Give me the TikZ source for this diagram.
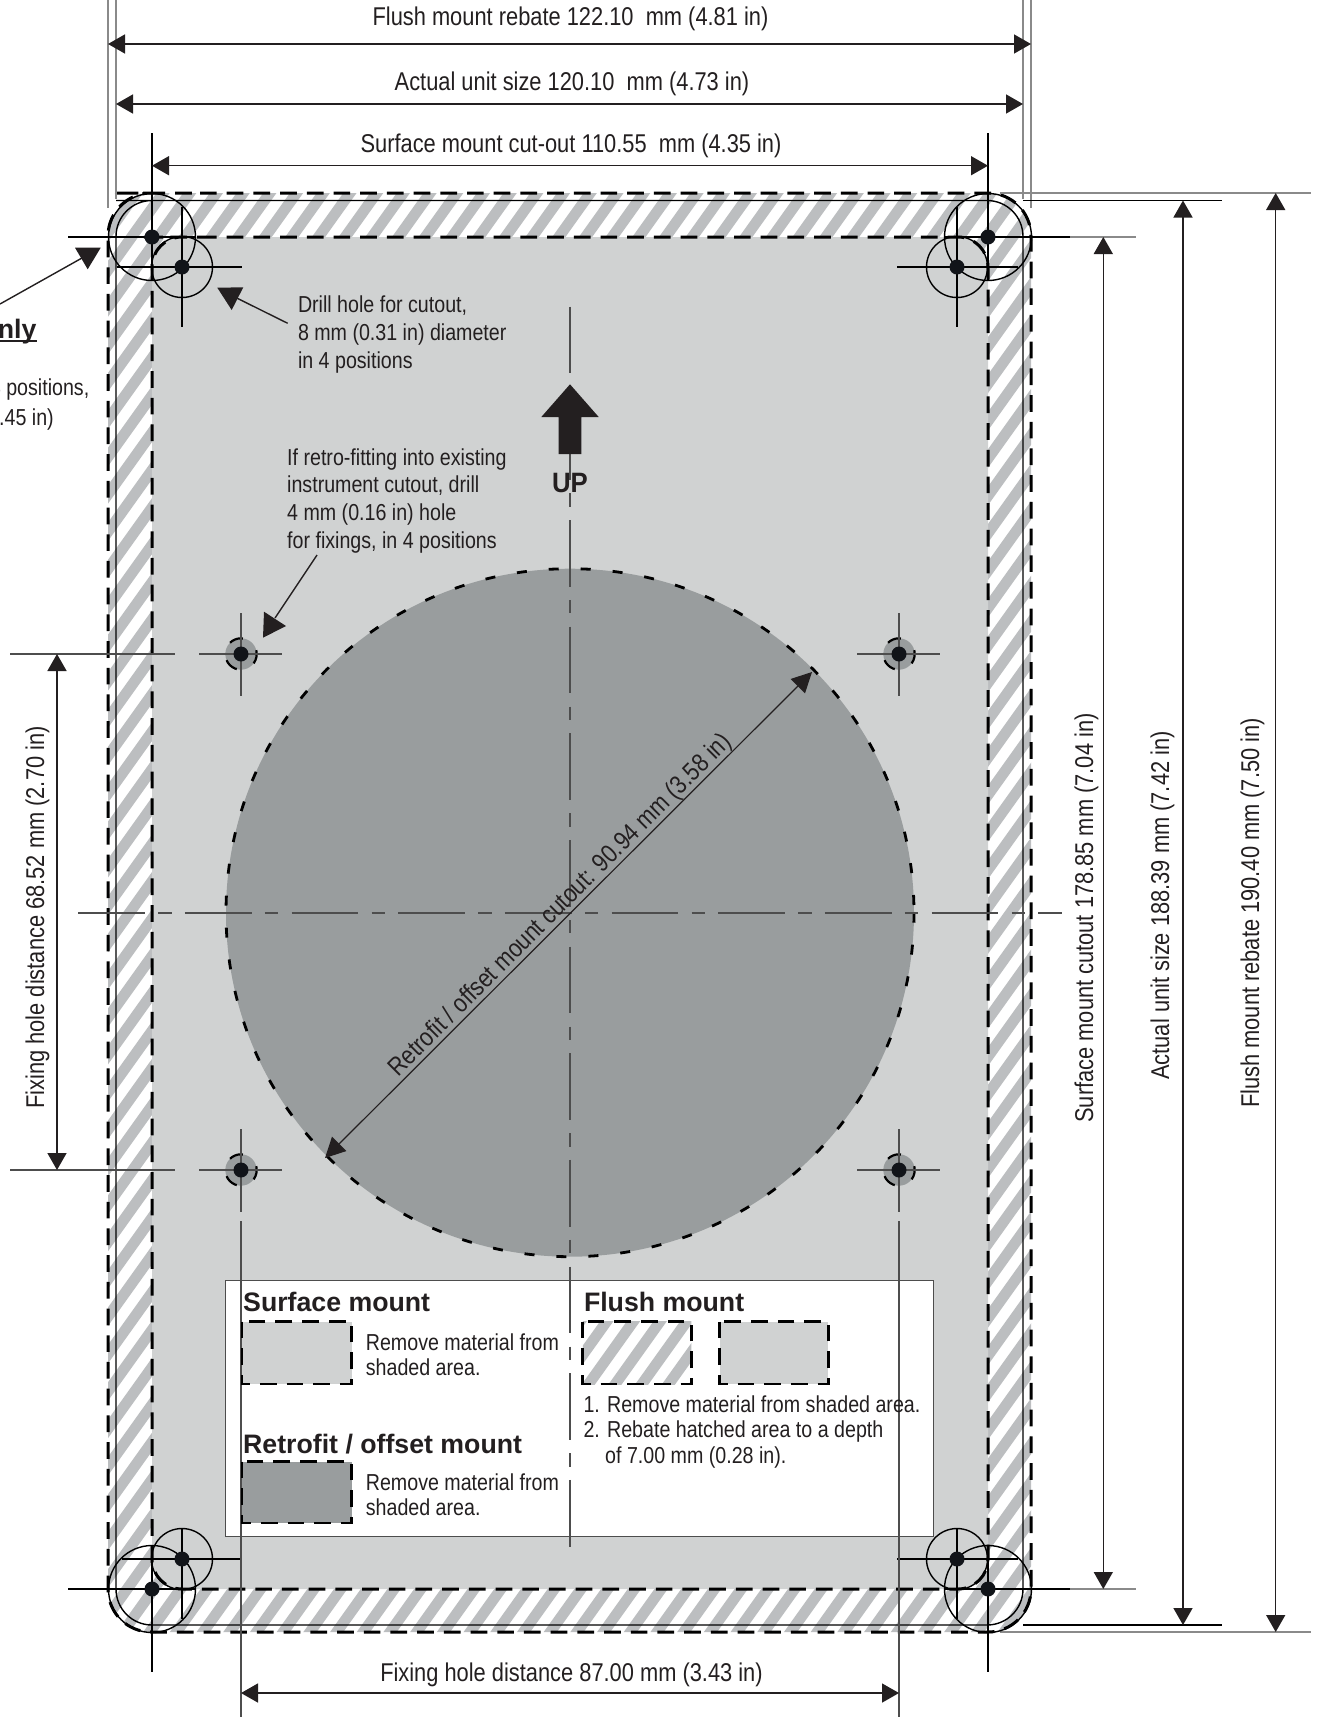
\documentclass[tikz,border=0pt]{standalone}
\usepackage{fontspec}
\setmainfont{Liberation Sans}
\newfontfamily\nar[FakeStretch=0.85]{Liberation Sans}
\newfontfamily\upf[FakeStretch=0.92]{Liberation Sans}
\usetikzlibrary{arrows.meta}
\definecolor{ink}{HTML}{231F20}
\definecolor{dot}{HTML}{111419}
\definecolor{plate}{HTML}{D0D2D2}
\definecolor{deep}{HTML}{999D9E}
\definecolor{stripe}{HTML}{BCBEC0}
\definecolor{cl}{HTML}{4D4D4D}
\definecolor{ext}{HTML}{8A8A8A}
\newcommand{\dimfont}{\nar\fontsize{25.7}{28}\selectfont}
\newcommand{\smallfont}{\nar\fontsize{23.1}{26}\selectfont}
\newcommand{\headfont}{\bfseries\fontsize{26.7}{30}\selectfont}
\newcommand{\stripes}[3]{%
  \foreach \k in {#1,...,#2}{%
    \pgfmathsetmacro{\c}{#3+26.7*\k}%
    \draw[stripe,line width=10.8pt] (\c,0) -- (\c-1285.7,1800);
  }}
\tikzset{
  dimline/.style={ink,line width=1.5pt,{Triangle[length=17pt,width=19pt]}-{Triangle[length=17pt,width=19pt]}},
  extline/.style={black,line width=1.3pt},
  greyline/.style={ext,line width=1.6pt},
  crossline/.style={cl,line width=1.6pt},
  centreline/.style={cl,line width=1.7pt,dash pattern=on 66.67pt off 13.33pt on 13.33pt off 13.33pt},
  cutdash/.style={black,line width=3pt,dash pattern=on 16.7pt off 10pt},
  thinring/.style={black,line width=1.4pt},
  holedot/.style={circle,fill=dot,inner sep=0pt,minimum size=15pt},
  txt/.style={ink,inner sep=0pt,anchor=base west,align=left},
  dimtxt/.style={ink,inner sep=0pt,anchor=base,font=\dimfont},
  smalltxt/.style={txt,font=\smallfont},
  headtxt/.style={txt,font=\headfont},
  pointer/.style={ink,line width=1.4pt},
  tip/.style={fill=ink,draw=none},
  swatch/.style={black,line width=2.7pt,dash pattern=on 16.7pt off 10pt}
}
\begin{document}
\begin{tikzpicture}[x=1pt,y=-1pt]
\useasboundingbox (0,0) rectangle (1317,1717);
\fill[white] (0,0) rectangle (1317,1717);
% hatched rebate
\begin{scope}
  \clip[rounded corners=43pt] (157,193) -- (1031,193) -- (1031,1632) -- (108,1632) -- (108,193) -- cycle;
  \stripes{9}{82}{7.2}
\end{scope}
% surface cut-out plate
\fill[plate,rounded corners=30pt] (170,237) -- (988,237) -- (988,1589) -- (152,1589) -- (152,237) -- cycle;
% retrofit circle
\coordinate (cc) at (570,912.7);
\fill[deep] (cc) circle[radius=344];
\draw[black,line width=2.8pt,dash pattern=on 10pt off 22pt] (cc) circle[radius=344];
% fixing holes
\foreach \n/\x/\y in {a/241/654,b/899/654,c/241/1170,d/899/1170}{
  \coordinate (fix\n) at (\x,\y);
  \fill[deep] (fix\n) circle[radius=15.7];
  \draw[black,line width=2.2pt,dash pattern=on 14pt off 18.9pt,dash phase=4pt] (fix\n) circle[radius=15.7];
}
% legend
\node[draw=cl,line width=1.3pt,fill=white,inner sep=0pt,minimum width=707.5pt,minimum height=256pt,anchor=north west] (legend) at (225,1280) {};
% outlines
\draw[cutdash,rounded corners=43pt] (157,193) -- (1031,193) -- (1031,1632) -- (108,1632) -- (108,193) -- cycle;
\draw[cutdash,rounded corners=30pt] (170,237) -- (988,237) -- (988,1589) -- (152,1589) -- (152,237) -- cycle;
\draw[thinring,rounded corners=36pt] (152,200.5) -- (1023,200.5) -- (1023,1625) -- (116,1625) -- (116,200.5) -- cycle;
% corner points
\coordinate (hTL) at (152,237); \coordinate (hTR) at (988,237); \coordinate (hBL) at (152,1589); \coordinate (hBR) at (988,1589);
\coordinate (iTL) at (182,267); \coordinate (iTR) at (957,267); \coordinate (iBL) at (182,1559); \coordinate (iBR) at (957,1559);
% extension lines
\draw[greyline] (108,0) -- (108,208);
\draw[greyline] (116,0) -- (116,199);
\draw[greyline] (1031,0) -- (1031,208);
\draw[greyline] (1023,0) -- (1023,199);
\draw[extline] (152,133) -- (152,280);
\draw[extline] (988,133) -- (988,280);
\draw[extline] (152,1546) -- (152,1672);
\draw[extline] (988,1546) -- (988,1672);
\draw[extline] (68,237) -- (195,237);
\draw[extline] (945,237) -- (1070,237);
\draw[greyline,line width=1.2pt] (1070,237) -- (1136,237);
\draw[extline] (68,1589) -- (195,1589);
\draw[extline] (945,1589) -- (1070,1589);
\draw[greyline,line width=1.2pt] (1070,1589) -- (1136,1589);
\draw[extline] (1023,200.5) -- (1222,200.5);
\draw[extline] (1023,1625) -- (1222,1625);
\draw[greyline] (1000,193) -- (1311,193);
\draw[greyline] (1000,1632) -- (1311,1632);
% drill circles
\foreach \n in {hTL,hTR,hBL,hBR}{
  \draw[thinring] (\n) circle[radius=43.5];
  \node[holedot] at (\n) {};
}
\foreach \n/\x/\y/\a/\b/\c/\d in {iTL/182/267/117/242/207/327,iTR/957/267/897/1018/207/327,iBL/182/1559/122/242/1528/1619,iBR/957/1559/897/1018/1528/1619}{
  \draw[thinring] (\n) circle[radius=30.5];
  \draw[extline] (\a,\y) -- (\b,\y);
  \draw[extline] (\x,\c) -- (\x,\d);
  \node[holedot] at (\n) {};
}
% fixing hole marks
\foreach \n/\x/\y in {a/241/654,b/899/654,c/241/1170,d/899/1170}{
  \draw[crossline] (\x-42,\y) -- (\x+41,\y);
  \draw[crossline] (\x,\y-41) -- (\x,\y+42);
  \node[holedot] at (fix\n) {};
}
\draw[crossline] (10,654) -- (175,654);
\draw[crossline] (10,1170) -- (175,1170);
\draw[crossline] (241,1221) -- (241,1717);
\draw[crossline] (899,1221) -- (899,1717);
% centre lines
\draw[centreline] (78.3,912.7) -- (1061.7,912.7);
\draw[centreline] (570,306.7) -- (570,1546.7);
% UP arrow
\fill[ink] (570,384.3) -- (598.7,417) -- (581.3,417) -- (581.3,454) -- (558.7,454) -- (558.7,417) -- (541.3,417) -- cycle;
\node[ink,inner sep=0pt,anchor=base,font=\upf\bfseries\fontsize{28}{30}\selectfont] (uplabel) at (570,492) {UP};
% dimension arrows
\coordinate (d1a) at (108,44); \coordinate (d1b) at (1031,44);
\coordinate (d2a) at (116,104); \coordinate (d2b) at (1023,104);
\coordinate (d3a) at (152,165.7); \coordinate (d3b) at (988,165.7);
\coordinate (d4a) at (241,1693); \coordinate (d4b) at (899,1693);
\coordinate (d5a) at (57,654); \coordinate (d5b) at (57,1170);
\coordinate (d6a) at (1103.3,237); \coordinate (d6b) at (1103.3,1589);
\coordinate (d7a) at (1183,200.5); \coordinate (d7b) at (1183,1625);
\coordinate (d8a) at (1275.7,193); \coordinate (d8b) at (1275.7,1632);
\foreach \n in {1,...,8}{\draw[dimline] (d\n a) -- (d\n b);}
\coordinate (da) at (325,1158); \coordinate (db) at (812,672);
\draw[ink,line width=1.2pt,{Triangle[length=20pt,width=20pt]}-{Triangle[length=20pt,width=20pt]}] (da) -- (db);
% dimension texts
\node[dimtxt] (t1) at (570.5,25.4) {Flush mount rebate 122.10\ \ mm (4.81 in)};
\node[dimtxt] (t2) at (572,90) {Actual unit size 120.10\ \ mm (4.73 in)};
\node[dimtxt] (t3) at (571,152.4) {Surface mount cut-out 110.55\ \ mm (4.35 in)};
\node[dimtxt] (t4) at (571.5,1681) {Fixing hole distance 87.00 mm (3.43 in)};
\node[dimtxt,rotate=90] (t5) at (44,917.5) {Fixing hole distance 68.52 mm (2.70 in)};
\node[dimtxt,rotate=90] (t6) at (1093,918) {Surface mount cutout 178.85 mm (7.04 in)};
\node[dimtxt,rotate=90] (t7) at (1169,905.5) {Actual unit size 188.39 mm (7.42 in)};
\node[dimtxt,rotate=90] (t8) at (1259,913) {Flush mount rebate 190.40 mm (7.50 in)};
\node[dimtxt,rotate=45] (t9) at (565.5,910.5) {Retrofit / offset mount cutout: 90.94 mm (3.58 in)};
% notes
\foreach \lab/\y/\s in {n1/312/{Drill hole for cutout,},n2/340/{8 mm (0.31 in) diameter},n3/368/{in 4 positions}}{
  \node[smalltxt] (\lab) at (297.8,\y) {\s};
}
\foreach \lab/\y/\s in {r1/465/{If retro-fitting into existing},r2/492.7/{instrument cutout, drill},r3/520.3/{4 mm (0.16 in) hole},r4/548/{for fixings, in 4 positions}}{
  \node[smalltxt] (\lab) at (287,\y) {\s};
}
\node[ink,inner sep=0pt,anchor=base east,font=\headfont] (onlytxt) at (36.7,338) {only};
\coordinate (ulA) at (0,341); \coordinate (ulB) at (onlytxt.base east |- ulA);
\draw[ink,line width=2pt] (ulA) -- (ulB);
\node[ink,inner sep=0pt,anchor=base east,font=\smallfont] (p1) at (89.5,395) {4 positions,};
\node[ink,inner sep=0pt,anchor=base east,font=\smallfont] (p2) at (54,425) {.45 in)};
% pointers
\coordinate (ptA0) at (0,304); \coordinate (ptA1) at (82,258);
\draw[pointer] (ptA0) -- (ptA1);
\fill[tip] (75,247.7) -- (100.7,247.7) -- (87.7,269.3) -- cycle;
\coordinate (ptB0) at (287.7,323.3); \coordinate (ptB1) at (237.3,298.3);
\draw[pointer] (ptB0) -- (ptB1);
\fill[tip] (217.3,287.7) -- (243.3,287.3) -- (231.7,310) -- cycle;
\coordinate (ptC0) at (317,555); \coordinate (ptC1) at (275,618);
\draw[pointer] (ptC0) -- (ptC1);
\fill[tip] (264,611.7) -- (286,626) -- (263,637.7) -- cycle;
% legend contents
\node[headtxt] (l1) at (243,1311.7) {Surface mount};
\node[headtxt] (l2) at (583.8,1311.7) {Flush mount};
\node[headtxt] (l3) at (243,1453.3) {Retrofit / offset mount};
\fill[plate] (242,1321.7) rectangle (351.6,1384);
\draw[swatch] (242,1321.7) rectangle (351.6,1384);
\fill[deep] (242,1461.7) rectangle (351.6,1523);
\draw[swatch] (242,1461.7) rectangle (351.6,1523);
\begin{scope}
  \clip (582.8,1321.7) rectangle (691.4,1384);
  \stripes{57}{63}{1.9}
\end{scope}
\draw[swatch] (582.8,1321.7) rectangle (691.4,1384);
\fill[plate] (719.7,1321.7) rectangle (828.2,1384);
\draw[swatch] (719.7,1321.7) rectangle (828.2,1384);
\node[smalltxt] (l4) at (365.7,1350) {Remove material from};
\node[smalltxt] (l5) at (365.7,1375.7) {shaded area.};
\node[smalltxt] (l6) at (365.7,1490) {Remove material from};
\node[smalltxt] (l7) at (365.7,1515.7) {shaded area.};
\node[smalltxt] (l8) at (583.3,1412.3) {1. Remove material from shaded area.};
\node[smalltxt] (l9) at (583.3,1437.7) {2. Rebate hatched area to a depth};
\node[smalltxt] (l10) at (605,1463.3) {of 7.00 mm (0.28 in).};
\end{tikzpicture}
\end{document}
